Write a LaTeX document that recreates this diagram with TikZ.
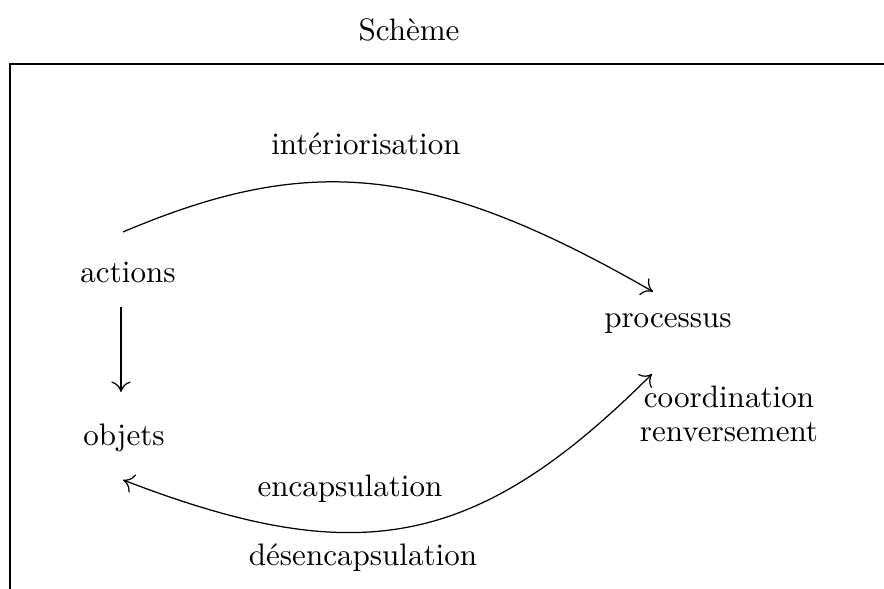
\documentclass[tikz,border=0pt]{standalone}
\usetikzlibrary{arrows.meta}
\begin{document}
\begin{tikzpicture}[x=0.3219pt,y=-0.3219pt,
  lbl/.style={inner sep=3.33pt},
  tip/.style={line width=0.4pt},
  arr/.style={-{To[length=3.4pt,width=6.2pt]}},
  darr/.style={{To[length=3.4pt,width=6.2pt]}-{To[length=3.4pt,width=6.2pt]}},
  frame/.style={draw=black, line width=0.4pt}]
\useasboundingbox (0,0) rectangle (884,589);
% title and frame
\node[lbl] (title) at (409,30) {Schème};
\draw[frame] (884,64) -- (10,64) -- (10,589);
% main nodes
\node[lbl] (actions) at (128,272) {actions};
\node[lbl] (objets) at (124,438) {objets};
\node[lbl] (processus) at (668,324) {processus};
% labels
\node[lbl] (interio) at (366,144) {intériorisation};
\node[lbl] (encap) at (350,489) {encapsulation};
\node[lbl] (desencap) at (363,558) {désencapsulation};
\node[lbl, align=center, anchor=north] (coord) at (729,375) {coordination\\[-1.2pt]renversement};
% connectors
\draw[tip, arr] ([shift={(-5,-18.7)}]actions.north) .. controls (307,154) and (428,162) .. ([shift={(-15,-11.4)}]processus.north);
\draw[tip, arr] ([shift={(-7,13.7)}]actions.south) -- ([shift={(-3,-21)}]objets.north);
\draw[tip, darr] ([shift={(-1,17)}]objets.south) .. controls (355.5,569.5) and (475,551) .. ([shift={(-16,29)}]processus.south);
\end{tikzpicture}
\end{document}
